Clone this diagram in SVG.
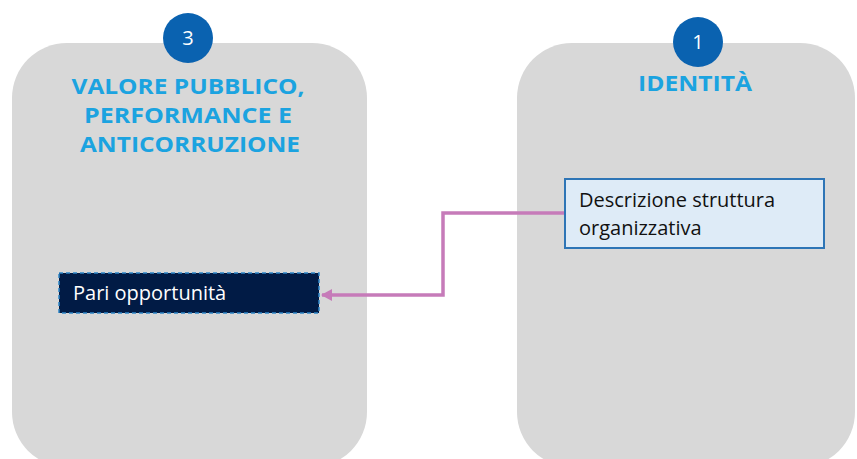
<svg xmlns="http://www.w3.org/2000/svg" width="857" height="459" viewBox="0 0 857 459">
<defs>
<style>
.panel{fill:#D8D8D8}
.badge{fill:#0A62B0}
.badgeText{fill:#FFFFFF;font-family:"Open Sans","Liberation Sans",sans-serif;font-size:20px;text-anchor:middle}
.title{fill:#1BA3E0;font-family:"Open Sans","Liberation Sans",sans-serif;font-weight:bold;font-size:22px;text-anchor:middle}
.body{font-family:"Open Sans","Liberation Sans",sans-serif;font-size:20px}
.conn{fill:none;stroke:#C67BB9;stroke-width:3.5}
</style>
<marker id="arr" markerWidth="12" markerHeight="12" refX="10" refY="6" orient="auto" markerUnits="userSpaceOnUse">
<path d="M0,0 L11,6 L0,12 Z" fill="#C67BB9"/>
</marker>
</defs>
<rect width="857" height="459" fill="#FFFFFF"/>
<g id="panel3">
<rect class="panel" x="12" y="43" width="355" height="424" rx="55" ry="55"/>
<circle class="badge" cx="188" cy="38" r="25"/>
<text class="badgeText" x="188" y="45">3</text>
<text class="title" x="188" y="94" textLength="233" lengthAdjust="spacingAndGlyphs">VALORE PUBBLICO,</text>
<text class="title" x="188" y="123" textLength="208" lengthAdjust="spacingAndGlyphs">PERFORMANCE E</text>
<text class="title" x="190" y="152" textLength="220" lengthAdjust="spacingAndGlyphs">ANTICORRUZIONE</text>
</g>
<g id="panel1">
<rect class="panel" x="517" y="43" width="338" height="424" rx="55" ry="55"/>
<circle class="badge" cx="698" cy="42" r="25"/>
<text class="badgeText" x="698" y="49">1</text>
<text class="title" x="695" y="91" textLength="114" lengthAdjust="spacingAndGlyphs">IDENTITÀ</text>
</g>
<g id="connectors">
<path class="conn" d="M565,213 L443,213 L443,295 L322,295" marker-end="url(#arr)"/>
</g>
<g id="pari">
<rect x="59" y="273" width="260" height="40" fill="#011B45" stroke="#2E86C8" stroke-width="1.5" stroke-dasharray="4,3"/>
<text class="body" x="73" y="300" fill="#FFFFFF">Pari opportunità</text>
</g>
<g id="descrizione">
<rect x="565" y="179" width="259" height="69" fill="#DEEBF7" stroke="#2E75B6" stroke-width="2"/>
<text class="body" x="579" y="207" fill="#111111">Descrizione struttura</text>
<text class="body" x="579" y="235" fill="#111111">organizzativa</text>
</g>
</svg>
